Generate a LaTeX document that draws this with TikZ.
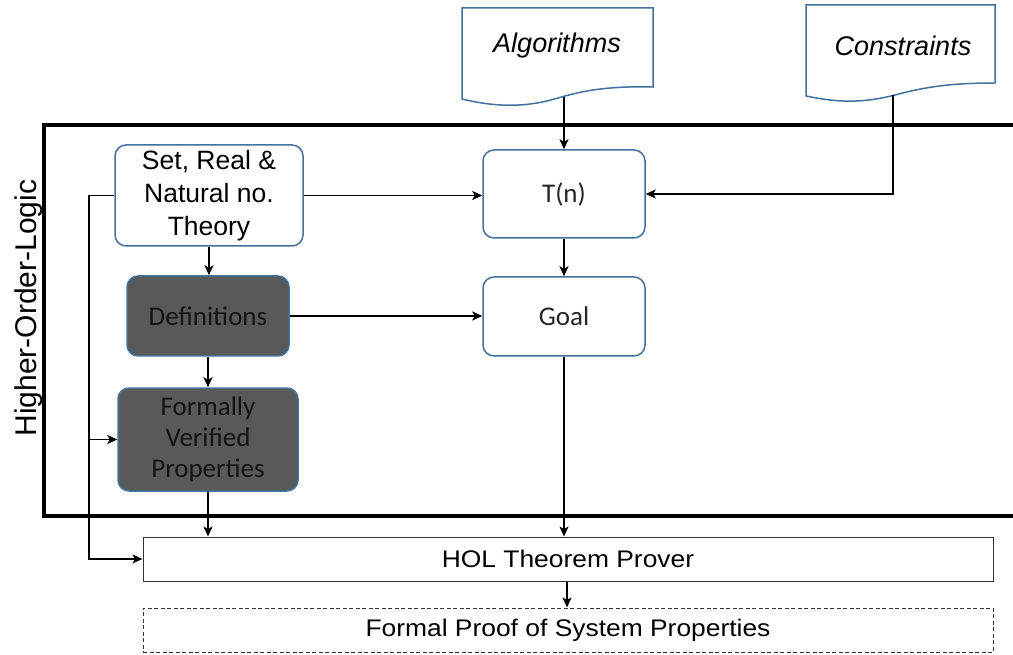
\documentclass[tikz,border=0pt]{standalone}
\usepackage{fontspec}
\setmainfont{Liberation Sans}
\newfontfamily\calib{Carlito}
\usetikzlibrary{arrows.meta}
\definecolor{bordc}{RGB}{65,113,156}
\definecolor{darkf}{RGB}{89,89,89}
\definecolor{dtext}{RGB}{20,20,20}
\begin{document}
\begin{tikzpicture}[x=1pt,y=-1pt,line width=1.4pt,
  arr/.style={-{Stealth[length=10pt,width=9pt,inset=2.5pt]},line width=1.9pt},
  rbox/.style={draw=bordc,line width=1.5pt,rounded corners=11pt,fill=white,align=center,inner sep=0pt},
  dbox/.style={rbox,fill=darkf,text=dtext},
  ftA/.style={font=\fontsize{26.5}{33}\selectfont},
  ftC/.style={font=\calib\fontsize{27}{31}\selectfont},
  docshape/.style={draw=bordc,line width=1.5pt,fill=white},
  plain/.style={draw=black!80,line width=1pt,minimum width=850pt,minimum height=44pt,inner sep=0pt,font=\fontsize{24}{28}\selectfont},
]
\clip (0,0) rectangle (1013,655);
\useasboundingbox (0,0) rectangle (1013,655);
% frame
\draw[line width=3.2pt] (44,125) rectangle (1040,516);
\node[rotate=90,font=\fontsize{30}{34}\selectfont] (hollabel) at (29,308) {Higher-Order-Logic};
% documents
\draw[docshape] (462,8) -- (653,8) -- (653,87) .. controls (610,86) and (585,90) .. (558,98)
  .. controls (525,108) and (495,107) .. (462,99) -- cycle;
\node[font=\itshape\fontsize{27}{30}\selectfont] (alg) at (557,46) {Algorithms};
\draw[docshape] (806,5) -- (995,5) -- (995,83) .. controls (950,83) and (925,87) .. (895,95)
  .. controls (860,104) and (835,102) .. (806,96) -- cycle;
\node[font=\itshape\fontsize{27}{30}\selectfont] (con) at (903,46) {Constraints};
\coordinate (algb) at (564,97);
\coordinate (conb) at (893,95);
% boxes
\node[rbox,ftA,minimum width=188pt,minimum height=101pt] (set) at (209,195.5) {Set, Real \&\\Natural no.\\Theory};
\node[rbox,ftC,text=black!85,minimum width=162pt,minimum height=88pt] (tn) at (564,194) {T(n)};
\node[rbox,ftC,text=black!85,minimum width=162pt,minimum height=79pt] (goal) at (564,316.5) {Goal};
\node[dbox,ftC,minimum width=162pt,minimum height=80pt] (defs) at (208,316) {Definitions};
\node[dbox,ftC,minimum width=180pt,minimum height=103pt] (fvp) at (208,439.5) {Formally\\Verified\\Properties};
\node[plain] (hol) at (568,559) {\scalebox{1.1}[1]{HOL Theorem Prover}};
\node[plain,dashed,dash pattern=on 4pt off 2.5pt] (fp) at (568,630) {\scalebox{1.1}[1]{Formal Proof of System Properties}};
% connectors
\draw[arr] (algb) -- (tn.north);
\draw[arr] (conb) |- (tn.east);
\draw[arr] (set.east) -- (set.east -| tn.west);
\draw[arr] (set.south) -- (set.south |- defs.north);
\draw[arr] (defs.east) -- (defs.east -| goal.west);
\draw[arr] (defs.south) -- (defs.south |- fvp.north);
\draw[arr] (fvp.south) -- (fvp.south |- hol.north);
\draw[arr] (tn.south) -- (goal.north);
\draw[arr] (goal.south) -- (goal.south |- hol.north);
\draw[arr] (hol.south -| 567,0) -- (fp.north -| 567,0);
\coordinate (lx) at (89,0);
\draw[arr] (set.west) -- (lx |- set.west) -- (lx |- hol.west) -- (hol.west);
\draw[arr] (lx |- fvp.west) -- (fvp.west);
\end{tikzpicture}
\end{document}
